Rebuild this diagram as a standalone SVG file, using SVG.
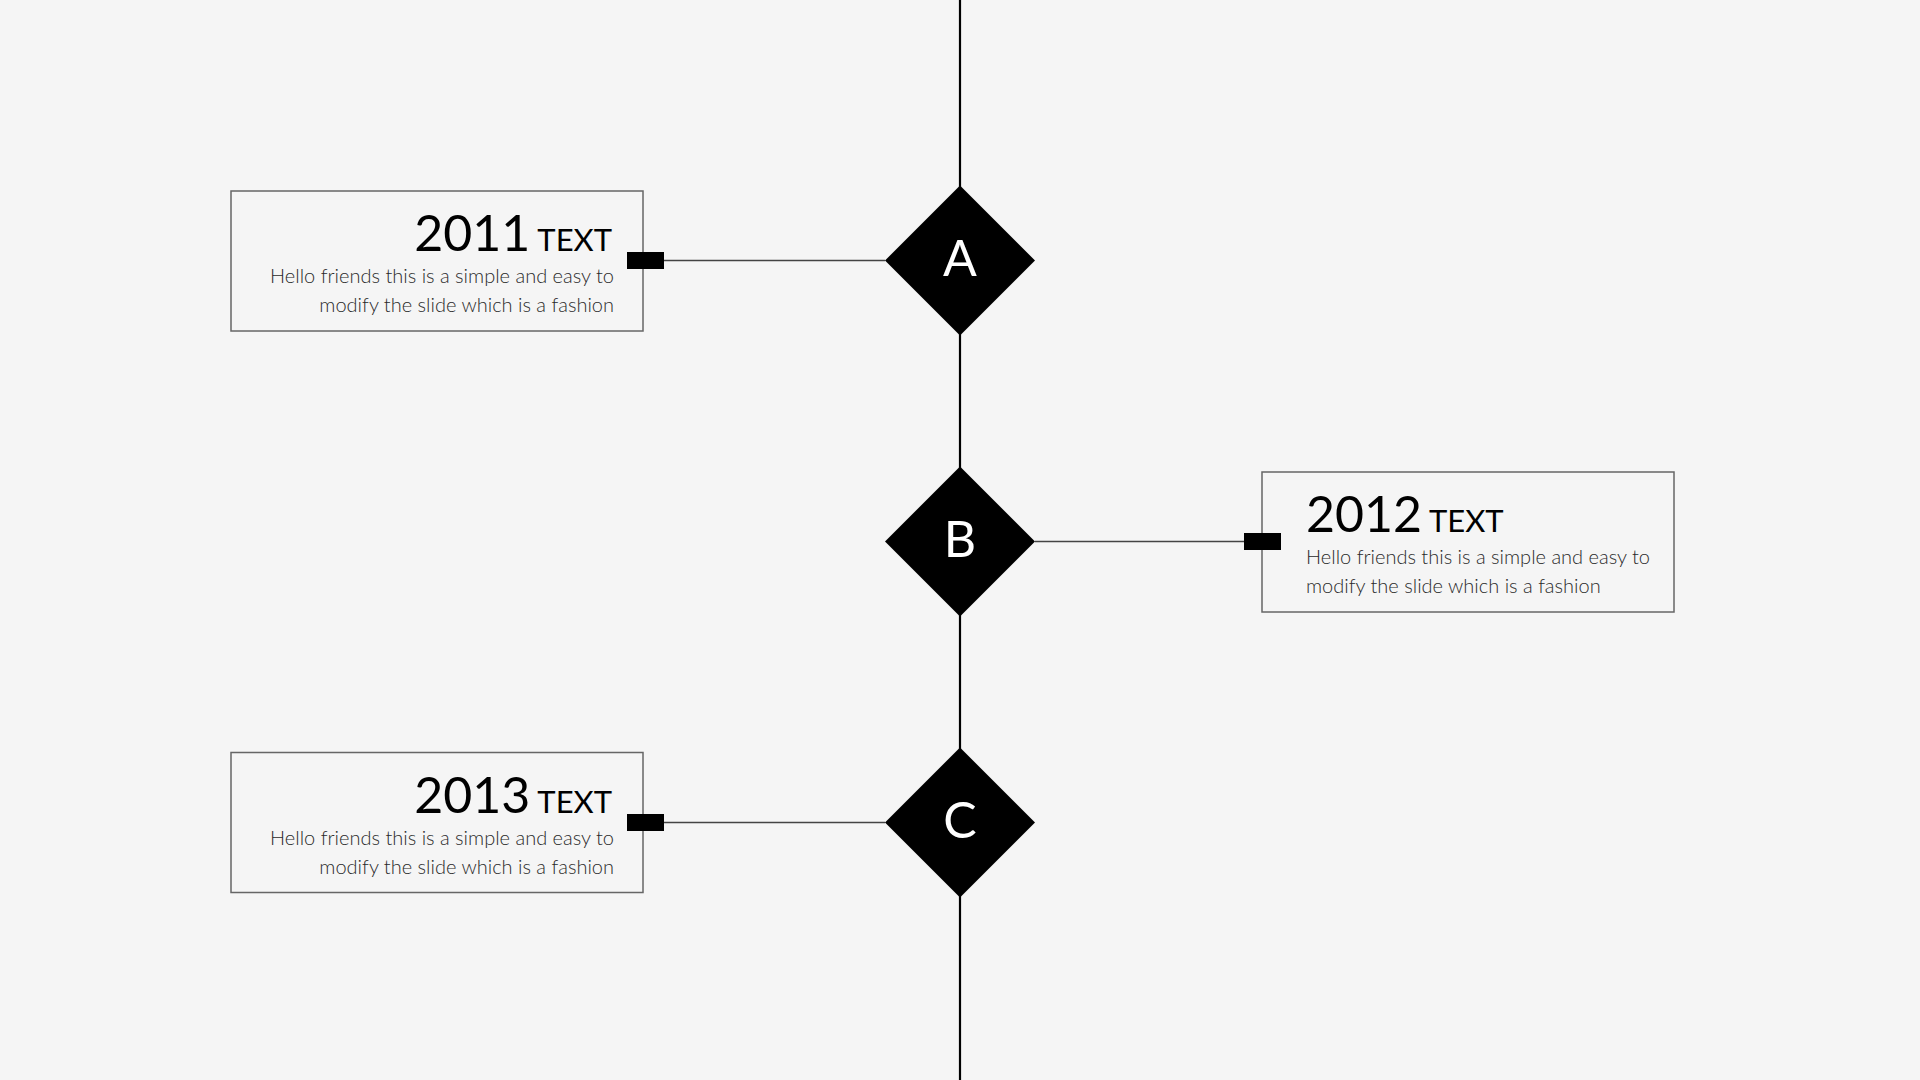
<svg xmlns="http://www.w3.org/2000/svg" width="1920" height="1080" viewBox="0 0 1920 1080">
<style>
.box{fill:none;stroke:#666;stroke-width:1.5}
.tab{fill:#000}
.conn{stroke:#444;stroke-width:1.5;fill:none}
.spine{stroke:#000;stroke-width:2.2;fill:none}
.dia{fill:#000}
.year{font-family:Lato,"Liberation Sans",sans-serif;font-size:50px;fill:#000}
.yt{font-size:31px}
.body{font-family:Lato,"Liberation Sans",sans-serif;font-weight:300;font-size:20px;fill:#2a2a2a}
.letter{font-family:Lato,"Liberation Sans",sans-serif;font-size:50px;fill:#fff;text-anchor:middle}
</style>
<rect width="1920" height="1080" fill="#f5f5f5"/>
<g id="connectors">
<line class="spine" x1="960" y1="0" x2="960" y2="1080"/>
<line class="conn" x1="664" y1="260.5" x2="885" y2="260.5"/>
<line class="conn" x1="1035" y1="541.5" x2="1244" y2="541.5"/>
<line class="conn" x1="664" y1="822.5" x2="885" y2="822.5"/>
</g>
<g id="node-a">
<polygon class="dia" points="960,185.5 1035,260.5 960,335.5 885,260.5"/>
<text class="letter" x="960" y="276">A</text>
</g>
<g id="node-b">
<polygon class="dia" points="960,466.5 1035,541.5 960,616.5 885,541.5"/>
<text class="letter" x="960" y="557">B</text>
</g>
<g id="node-c">
<polygon class="dia" points="960,747.5 1035,822.5 960,897.5 885,822.5"/>
<text class="letter" x="960" y="838">C</text>
</g>
<g id="box-2011">
<rect class="box" x="231" y="191" width="412" height="140"/>
<rect class="tab" x="627" y="252" width="37" height="17"/>
<text class="year" x="612" y="251" text-anchor="end">2011<tspan class="yt" dx="7">TEXT</tspan></text>
<text class="body" x="614" y="283" text-anchor="end">Hello friends this is a simple and easy to</text>
<text class="body" x="614" y="312" text-anchor="end">modify the slide which is a fashion</text>
</g>
<g id="box-2012">
<rect class="box" x="1262" y="472" width="412" height="140"/>
<rect class="tab" x="1244" y="533" width="37" height="17"/>
<text class="year" x="1306" y="532">2012<tspan class="yt" dx="7">TEXT</tspan></text>
<text class="body" x="1306" y="564">Hello friends this is a simple and easy to</text>
<text class="body" x="1306" y="593">modify the slide which is a fashion</text>
</g>
<g id="box-2013">
<rect class="box" x="231" y="752.5" width="412" height="140"/>
<rect class="tab" x="627" y="814" width="37" height="17"/>
<text class="year" x="612" y="812.5" text-anchor="end">2013<tspan class="yt" dx="7">TEXT</tspan></text>
<text class="body" x="614" y="844.5" text-anchor="end">Hello friends this is a simple and easy to</text>
<text class="body" x="614" y="873.5" text-anchor="end">modify the slide which is a fashion</text>
</g>
</svg>
